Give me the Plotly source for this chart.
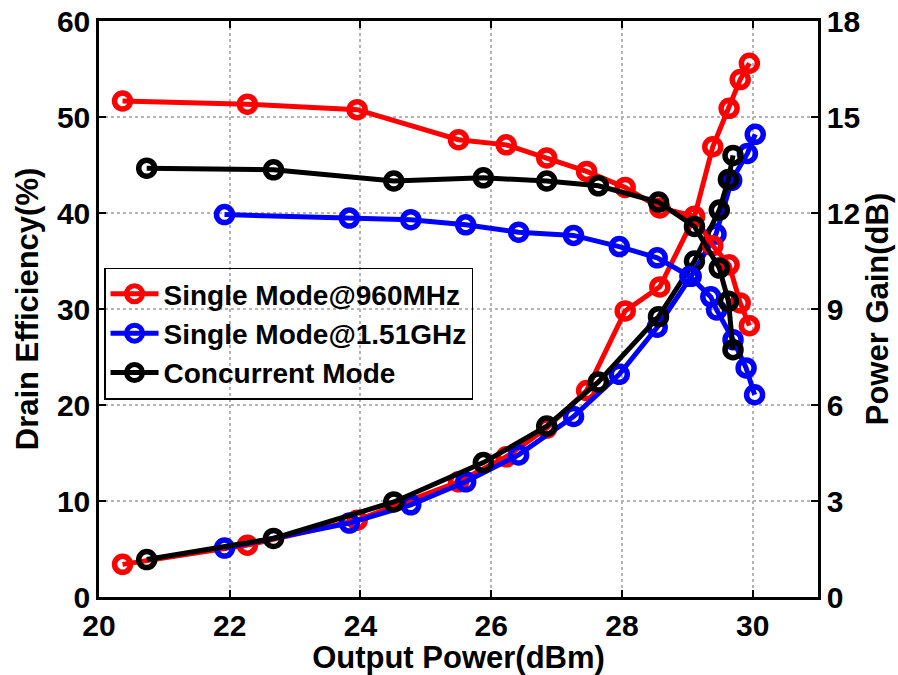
import plotly.graph_objects as go

# Output power (dBm), drain efficiency (%) and power gain (dB) per operating mode
pout_960 = [20.36, 22.27, 23.95, 25.50, 26.23, 26.85, 27.46, 28.05, 28.58, 29.11, 29.39, 29.64, 29.81, 29.95]
de_960 = [3.4, 5.4, 8.0, 12.0, 14.6, 17.6, 21.5, 29.8, 32.3, 39.6, 46.9, 50.9, 53.9, 55.6]
gain_960 = [15.5, 15.4, 15.23, 14.29, 14.13, 13.72, 13.3, 12.8, 12.16, 11.9, 10.98, 10.38, 9.19, 8.48]

pout_151_de = [21.92, 23.83, 24.77, 25.61, 26.42, 27.26, 27.96, 28.54, 29.06, 29.44, 29.68, 29.92, 30.04]
de_151 = [5.1, 7.7, 9.6, 12.0, 14.8, 18.8, 23.2, 28.1, 33.4, 37.8, 43.4, 46.2, 48.2]
pout_151_gain = [21.92, 23.83, 24.77, 25.61, 26.42, 27.26, 27.96, 28.54, 29.04, 29.36, 29.45, 29.70, 29.90, 30.03]
gain_151 = [11.95, 11.84, 11.79, 11.63, 11.4, 11.3, 10.95, 10.6, 10.02, 9.38, 8.97, 8.04, 7.16, 6.32]

pout_conc = [20.73, 22.67, 24.51, 25.88, 26.85, 27.64, 28.56, 29.11, 29.49, 29.63, 29.70]
de_conc = [3.9, 6.1, 9.9, 14.0, 17.8, 22.4, 29.2, 35.0, 40.3, 43.5, 46.0]
gain_conc = [13.4, 13.35, 13.0, 13.1, 13.0, 12.85, 12.34, 11.58, 10.28, 9.24, 7.73]

names = ["Single Mode@960MHz", "Single Mode@1.51GHz", "Concurrent Mode"]
colors = ["#ff0000", "#0000ff", "#000000"]

x_ticks = [20, 22, 24, 26, 28, 30]
de_ticks = [0, 10, 20, 30, 40, 50, 60]
gain_ticks = [0, 3, 6, 9, 12, 15, 18]

FONT = dict(family="Liberation Sans, Arial, sans-serif", color="black", weight="bold")

fig = go.Figure()

series = [
    (pout_960, de_960, pout_960, gain_960),
    (pout_151_de, de_151, pout_151_gain, gain_151),
    (pout_conc, de_conc, pout_conc, gain_conc),
]

for (xd, yd, xg, yg), name, col in zip(series, names, colors):
    style = dict(
        mode="lines+markers",
        line=dict(color=col, width=5),
        marker=dict(symbol="circle-open", size=16, color=col, line=dict(width=5.5, color=col)),
    )
    fig.add_trace(go.Scatter(x=xd, y=yd, name=name, legendgroup=name, yaxis="y", **style))
    fig.add_trace(go.Scatter(x=xg, y=yg, name=name, legendgroup=name, showlegend=False,
                             yaxis="y2", **style))

grid = dict(showgrid=True, gridcolor="#b4b4b4", gridwidth=1.5, griddash="dot")
axis_common = dict(showline=True, linecolor="black", linewidth=2.5, ticks="inside",
                   ticklen=7, tickwidth=2, tickcolor="black", zeroline=False,
                   automargin=False, tickfont=dict(size=30, **FONT))

fig.update_layout(
    width=898, height=675,
    margin=dict(l=99, r=80, t=21, b=78),
    paper_bgcolor="white", plot_bgcolor="white",
    showlegend=True,
    legend=dict(x=0.007, y=0.572, xanchor="left", yanchor="top",
                bgcolor="rgba(0,0,0,0)", bordercolor="black", borderwidth=1.5,
                font=dict(size=28, **FONT), tracegroupgap=0, itemwidth=48),
    xaxis=dict(range=[20, 31], tickvals=x_ticks, mirror="ticks",
               title=dict(text="Output Power(dBm)", font=dict(size=31, **FONT), standoff=2),
               **grid, **axis_common),
    yaxis=dict(range=[0, 60], tickvals=de_ticks, mirror=True,
               title=dict(text="Drain Efficiency(%)", font=dict(size=31, **FONT), standoff=10),
               **grid, **axis_common),
    yaxis2=dict(range=[0, 18], tickvals=gain_ticks, overlaying="y", side="right",
                showgrid=False,
                title=dict(text="Power Gain(dB)", font=dict(size=31, **FONT), standoff=4),
                **axis_common),
)

fig.write_html("out.html")
